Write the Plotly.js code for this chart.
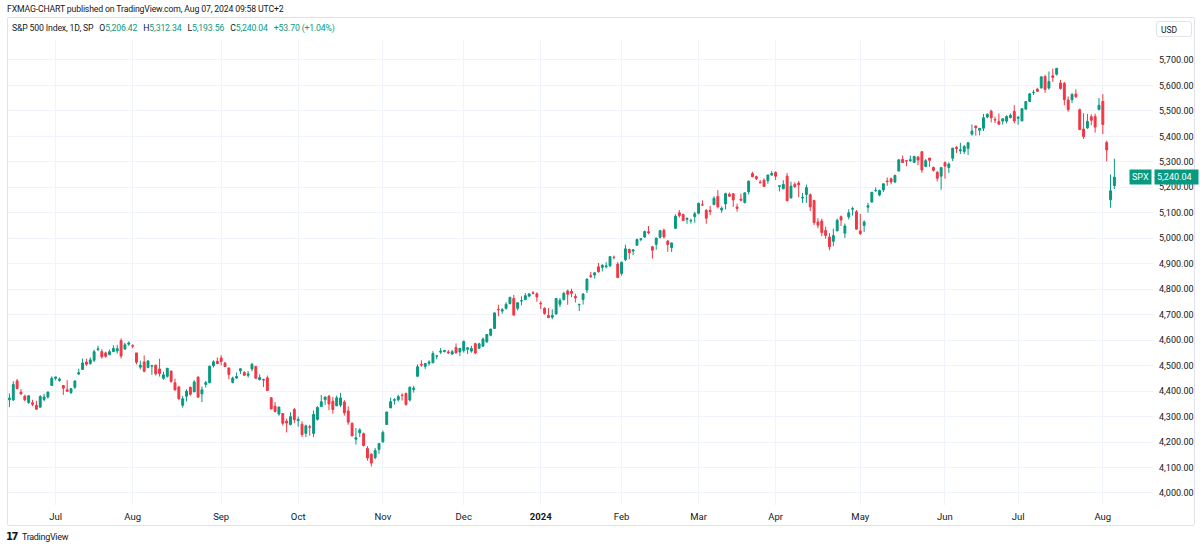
<!DOCTYPE html>
<html>
<head>
<meta charset="utf-8">
<script src="https://cdn.plot.ly/plotly-3.0.1.min.js"></script>
<style>
  html, body { margin:0; padding:0; background:#ffffff; }
  #wrap { position:relative; width:1200px; height:549px; overflow:hidden; font-family:Roboto, "Liberation Sans", sans-serif; color:#131722; }
  #frame { position:absolute; left:7px; top:17px; width:1188px; height:509px; border:1px solid #e0e3eb; border-radius:2px; box-sizing:border-box; }
  #chart { position:absolute; left:0; top:0; width:1200px; height:549px; }
  .txt { position:absolute; white-space:nowrap; }
  #hdr { left:7px; top:4px; font-size:8.7px; letter-spacing:-0.15px; color:#131722; }
  #leg { left:12px; top:23px; font-size:8.7px; letter-spacing:-0.15px; color:#131722; }
  #leg .v { color:#089981; }
  #usd { left:1156px; top:21px; width:36px; height:16px; border:1px solid #e0e3eb; border-radius:3px; font-size:8.5px; line-height:16px; text-align:left; padding-left:4px; box-sizing:border-box; background:#fff; }
  #logo { left:6px; top:531px; font-size:9px; letter-spacing:-0.3px; color:#131722; }
  #logo b { font-family:"DejaVu Sans", sans-serif; font-weight:900; font-size:10px; letter-spacing:-1.5px; margin-right:5px; }
</style>
</head>
<body>
<div id="wrap">
  <div id="frame"></div>
  <div id="chart"></div>
  <div class="txt" id="hdr">FXMAG-CHART published on TradingView.com, Aug 07, 2024 09:58 UTC+2</div>
  <div class="txt" id="leg">S&amp;P 500 Index, 1D, SP&nbsp;&nbsp;&nbsp;O<span class="v">5,206.42</span>&nbsp;&nbsp;&nbsp;H<span class="v">5,312.34</span>&nbsp;&nbsp;&nbsp;L<span class="v">5,193.56</span>&nbsp;&nbsp;&nbsp;C<span class="v">5,240.04</span>&nbsp;&nbsp;&nbsp;<span class="v">+53.70 (+1.04%)</span></div>
  <div class="txt" id="usd">USD</div>
  <div class="txt" id="logo"><b>17</b>TradingView</div>
</div>
<script>
// Trading days (daily candles), S&P 500 Index
const dates = [
 // Jun 2023
 '2023-06-14','2023-06-15','2023-06-16','2023-06-20','2023-06-21','2023-06-22','2023-06-23','2023-06-26','2023-06-27','2023-06-28','2023-06-29','2023-06-30',
 // Jul 2023
 '2023-07-03','2023-07-05','2023-07-06','2023-07-07','2023-07-10','2023-07-11','2023-07-12','2023-07-13','2023-07-14','2023-07-17','2023-07-18','2023-07-19','2023-07-20','2023-07-21','2023-07-24','2023-07-25','2023-07-26','2023-07-27','2023-07-28','2023-07-31',
 // Aug 2023
 '2023-08-01','2023-08-02','2023-08-03','2023-08-04','2023-08-07','2023-08-08','2023-08-09','2023-08-10','2023-08-11','2023-08-14','2023-08-15','2023-08-16','2023-08-17','2023-08-18','2023-08-21','2023-08-22','2023-08-23','2023-08-24','2023-08-25','2023-08-28','2023-08-29','2023-08-30','2023-08-31',
 // Sep 2023
 '2023-09-01','2023-09-05','2023-09-06','2023-09-07','2023-09-08','2023-09-11','2023-09-12','2023-09-13','2023-09-14','2023-09-15','2023-09-18','2023-09-19','2023-09-20','2023-09-21','2023-09-22','2023-09-25','2023-09-26','2023-09-27','2023-09-28','2023-09-29',
 // Oct 2023
 '2023-10-02','2023-10-03','2023-10-04','2023-10-05','2023-10-06','2023-10-09','2023-10-10','2023-10-11','2023-10-12','2023-10-13','2023-10-16','2023-10-17','2023-10-18','2023-10-19','2023-10-20','2023-10-23','2023-10-24','2023-10-25','2023-10-26','2023-10-27','2023-10-30','2023-10-31',
 // Nov 2023
 '2023-11-01','2023-11-02','2023-11-03','2023-11-06','2023-11-07','2023-11-08','2023-11-09','2023-11-10','2023-11-13','2023-11-14','2023-11-15','2023-11-16','2023-11-17','2023-11-20','2023-11-21','2023-11-22','2023-11-24','2023-11-27','2023-11-28','2023-11-29','2023-11-30',
 // Dec 2023
 '2023-12-01','2023-12-04','2023-12-05','2023-12-06','2023-12-07','2023-12-08','2023-12-11','2023-12-12','2023-12-13','2023-12-14','2023-12-15','2023-12-18','2023-12-19','2023-12-20','2023-12-21','2023-12-22','2023-12-26','2023-12-27','2023-12-28','2023-12-29',
 // Jan 2024
 '2024-01-02','2024-01-03','2024-01-04','2024-01-05','2024-01-08','2024-01-09','2024-01-10','2024-01-11','2024-01-12','2024-01-16','2024-01-17','2024-01-18','2024-01-19','2024-01-22','2024-01-23','2024-01-24','2024-01-25','2024-01-26','2024-01-29','2024-01-30','2024-01-31',
 // Feb 2024
 '2024-02-01','2024-02-02','2024-02-05','2024-02-06','2024-02-07','2024-02-08','2024-02-09','2024-02-12','2024-02-13','2024-02-14','2024-02-15','2024-02-16','2024-02-20','2024-02-21','2024-02-22','2024-02-23','2024-02-26','2024-02-27','2024-02-28','2024-02-29',
 // Mar 2024
 '2024-03-01','2024-03-04','2024-03-05','2024-03-06','2024-03-07','2024-03-08','2024-03-11','2024-03-12','2024-03-13','2024-03-14','2024-03-15','2024-03-18','2024-03-19','2024-03-20','2024-03-21','2024-03-22','2024-03-25','2024-03-26','2024-03-27','2024-03-28',
 // Apr 2024
 '2024-04-01','2024-04-02','2024-04-03','2024-04-04','2024-04-05','2024-04-08','2024-04-09','2024-04-10','2024-04-11','2024-04-12','2024-04-15','2024-04-16','2024-04-17','2024-04-18','2024-04-19','2024-04-22','2024-04-23','2024-04-24','2024-04-25','2024-04-26','2024-04-29','2024-04-30',
 // May 2024
 '2024-05-01','2024-05-02','2024-05-03','2024-05-06','2024-05-07','2024-05-08','2024-05-09','2024-05-10','2024-05-13','2024-05-14','2024-05-15','2024-05-16','2024-05-17','2024-05-20','2024-05-21','2024-05-22','2024-05-23','2024-05-24','2024-05-28','2024-05-29','2024-05-30','2024-05-31',
 // Jun 2024
 '2024-06-03','2024-06-04','2024-06-05','2024-06-06','2024-06-07','2024-06-10','2024-06-11','2024-06-12','2024-06-13','2024-06-14','2024-06-17','2024-06-18','2024-06-20','2024-06-21','2024-06-24','2024-06-25','2024-06-26','2024-06-27','2024-06-28',
 // Jul 2024
 '2024-07-01','2024-07-02','2024-07-03','2024-07-05','2024-07-08','2024-07-09','2024-07-10','2024-07-11','2024-07-12','2024-07-15','2024-07-16','2024-07-17','2024-07-18','2024-07-19','2024-07-22','2024-07-23','2024-07-24','2024-07-25','2024-07-26','2024-07-29','2024-07-30','2024-07-31',
 // Aug 2024
 '2024-08-01','2024-08-02','2024-08-05','2024-08-06'
];

const open = [
 4366,4365,4440,4396,4380,4355,4354,4344,4337,4367,4377,4422,
 4450,4442,4422,4405,4394,4415,4467,4485,4514,4508,4521,4563,4555,4550,4543,4555,4558,4598,4565,4584,
 4578,4550,4494,4514,4492,4498,4502,4487,4450,4458,4479,4433,4416,4344,4380,4415,4397,4455,4389,4426,4433,4500,4517,
 4530,4510,4491,4434,4451,4480,4473,4462,4487,4497,4445,4445,4452,4374,4341,4310,4312,4282,4269,4328,
 4284,4270,4234,4260,4234,4289,4339,4366,4380,4360,4342,4345,4357,4322,4274,4211,4236,4233,4175,4152,4139,4171,
 4201,4269,4334,4364,4366,4384,4391,4365,4406,4458,4505,4497,4509,4511,4538,4553,4555,4554,4546,4571,4554,
 4559,4564,4557,4586,4568,4576,4593,4619,4646,4721,4714,4725,4743,4764,4725,4754,4759,4773,4786,4782,
 4745,4725,4697,4690,4703,4741,4759,4793,4792,4772,4739,4760,4797,4853,4856,4888,4886,4888,4892,4925,4899,
 4862,4916,4957,4950,4973,4996,5005,5026,4967,4976,5004,5032,4989,4963,5039,5100,5093,5074,5068,5085,
 5098,5131,5110,5109,5132,5164,5111,5135,5173,5175,5123,5154,5140,5182,5254,5242,5220,5228,5226,5248,
 5258,5204,5194,5244,5158,5212,5217,5158,5172,5171,5149,5064,5068,5031,5005,4988,5029,5085,5020,5084,5114,5104,
 5029,5050,5122,5142,5187,5170,5190,5225,5234,5221,5264,5310,5304,5305,5298,5319,5340,5282,5315,5278,5259,5244,
 5297,5278,5314,5357,5343,5341,5353,5409,5441,5424,5432,5476,5499,5466,5459,5460,5460,5474,5498,
 5471,5461,5507,5537,5572,5585,5591,5635,5590,5638,5644,5610,5608,5543,5544,5566,5505,5429,5433,5477,5478,5505,
 5537,5376,5151,5206.42
];

const high = [
 4391,4439,4448,4408,4386,4382,4366,4362,4384,4390,4398,4458,
 4456,4454,4423,4443,4412,4443,4488,4528,4527,4532,4562,4578,4565,4555,4563,4580,4582,4607,4590,4595,
 4584,4550,4519,4540,4520,4503,4502,4527,4476,4490,4479,4449,4421,4381,4407,4418,4443,4458,4418,4440,4500,4521,4532,
 4541,4514,4491,4457,4473,4490,4478,4479,4511,4497,4466,4449,4461,4376,4357,4338,4313,4292,4317,4334,
 4300,4282,4268,4268,4324,4341,4385,4378,4385,4377,4383,4393,4364,4340,4276,4255,4254,4237,4184,4156,4177,4195,
 4245,4319,4374,4372,4386,4391,4394,4418,4421,4505,4521,4511,4521,4557,4542,4569,4560,4561,4562,4587,4569,
 4599,4572,4578,4590,4590,4610,4624,4644,4709,4739,4726,4749,4769,4778,4749,4772,4785,4785,4793,4788,
 4754,4729,4726,4721,4764,4765,4790,4799,4802,4782,4744,4785,4842,4868,4866,4903,4898,4906,4929,4932,4906,
 4906,4975,4957,4957,4999,5000,5030,5048,4970,5002,5033,5038,4993,4983,5094,5111,5097,5081,5077,5104,
 5140,5149,5114,5127,5165,5189,5125,5179,5180,5176,5136,5175,5179,5225,5261,5246,5229,5235,5249,5264,
 5263,5208,5228,5256,5222,5220,5225,5178,5211,5176,5150,5079,5077,5046,5020,5038,5077,5089,5058,5114,5124,5111,
 5096,5070,5139,5181,5200,5191,5214,5239,5238,5250,5311,5325,5305,5325,5324,5323,5341,5311,5316,5282,5264,5280,
 5302,5298,5354,5362,5375,5366,5376,5447,5441,5432,5488,5490,5505,5478,5490,5472,5483,5490,5523,
 5479,5509,5539,5570,5583,5591,5635,5642,5655,5666,5669,5622,5614,5557,5570,5585,5509,5491,5488,5487,5489,5551,
 5566,5383,5250,5312.34
];

const low = [
 4337,4362,4407,4386,4360,4350,4341,4328,4335,4360,4371,4422,
 4442,4437,4385,4398,4389,4408,4463,4485,4499,4504,4514,4557,4527,4531,4541,4553,4547,4528,4563,4578,
 4568,4505,4485,4474,4491,4464,4461,4457,4444,4453,4433,4403,4364,4335,4360,4382,4397,4375,4357,4414,4431,4493,4507,
 4501,4496,4446,4430,4448,4467,4461,4453,4478,4448,4442,4416,4402,4329,4316,4303,4265,4238,4265,4274,
 4260,4220,4220,4225,4219,4284,4339,4345,4325,4311,4342,4337,4304,4268,4223,4190,4219,4182,4127,4104,4132,4154,
 4197,4268,4334,4347,4359,4363,4343,4359,4394,4458,4495,4487,4500,4511,4525,4546,4552,4546,4541,4547,4538,
 4551,4546,4551,4546,4565,4575,4591,4615,4644,4694,4704,4720,4743,4697,4717,4737,4758,4768,4780,4751,
 4722,4700,4687,4682,4700,4730,4756,4739,4769,4748,4714,4740,4785,4844,4842,4865,4870,4882,4887,4917,4845,
 4853,4910,4918,4934,4970,4988,5001,5016,4920,4955,4999,4999,4947,4946,5039,5081,5068,5057,5058,5061,
 5094,5127,5057,5091,5131,5117,5100,5114,5163,5123,5104,5145,5137,5172,5240,5229,5216,5203,5214,5246,
 5229,5184,5194,5146,5157,5198,5161,5139,5139,5107,5052,5039,5008,4998,4953,4969,5028,5048,5001,5074,5089,5035,
 5013,5025,5101,5142,5182,5165,5182,5206,5212,5217,5263,5296,5283,5299,5297,5287,5257,5279,5280,5262,5223,5191,
 5234,5257,5303,5335,5331,5331,5327,5403,5403,5404,5421,5471,5455,5452,5447,5446,5451,5471,5451,
 5446,5459,5507,5535,5563,5574,5587,5571,5583,5614,5639,5584,5522,5497,5531,5551,5424,5390,5430,5444,5415,5505,
 5409,5302,5120,5193.56
];

const close = [
 4372.59,4425.84,4409.59,4388.71,4365.69,4381.89,4348.33,4328.82,4378.41,4376.86,4396.44,4450.38,
 4455.59,4446.82,4411.59,4398.95,4409.53,4439.26,4472.16,4510.04,4505.42,4522.79,4554.98,4565.72,4534.87,4536.34,4554.64,4567.46,4566.75,4537.41,4582.23,4588.96,
 4576.73,4513.39,4501.89,4478.03,4518.44,4499.38,4467.71,4468.83,4464.05,4489.72,4437.86,4404.33,4370.36,4369.71,4399.77,4387.55,4436.01,4376.31,4405.71,4433.31,4497.63,4514.87,4507.66,
 4515.77,4496.83,4465.48,4451.14,4457.49,4487.46,4461.90,4467.44,4505.10,4450.32,4453.53,4443.95,4402.20,4330.00,4320.06,4337.44,4273.53,4274.51,4299.70,4288.05,
 4288.39,4229.45,4263.75,4258.19,4308.50,4335.66,4358.24,4376.95,4349.61,4327.78,4373.63,4373.20,4314.60,4278.00,4224.16,4217.04,4247.68,4186.77,4137.23,4117.37,4166.82,4193.80,
 4237.86,4317.78,4358.34,4365.98,4378.38,4382.78,4347.35,4415.24,4411.55,4495.70,4502.88,4508.24,4514.02,4547.38,4538.19,4556.62,4559.34,4550.43,4554.89,4550.58,4567.80,
 4594.63,4569.78,4567.18,4549.34,4585.59,4604.37,4622.44,4643.70,4707.09,4719.55,4719.19,4740.56,4768.37,4698.35,4746.75,4754.63,4774.75,4781.58,4783.35,4769.83,
 4742.83,4704.81,4688.68,4697.24,4763.54,4756.50,4783.45,4780.24,4783.83,4765.98,4739.21,4780.94,4839.81,4850.43,4864.60,4868.55,4894.16,4890.97,4927.93,4924.97,4845.65,
 4906.19,4958.61,4942.81,4954.23,4995.06,4997.91,5026.61,5021.84,4953.17,5000.62,5029.73,5005.57,4975.51,4981.80,5087.03,5088.80,5069.53,5078.18,5069.76,5096.27,
 5137.08,5130.95,5078.65,5104.76,5157.36,5123.69,5117.94,5175.27,5165.31,5150.48,5117.09,5149.42,5178.51,5224.62,5241.53,5234.18,5218.19,5203.58,5248.49,5254.35,
 5243.77,5205.81,5211.49,5147.21,5204.34,5202.39,5209.91,5160.64,5199.06,5123.41,5061.82,5051.41,5022.21,5011.12,4967.23,5010.60,5070.55,5071.63,5048.42,5099.96,5116.17,5035.69,
 5018.39,5064.20,5127.79,5180.74,5187.70,5187.67,5214.08,5222.68,5221.42,5246.68,5308.15,5297.10,5303.27,5308.13,5321.41,5307.01,5267.84,5304.72,5306.04,5266.95,5235.48,5277.51,
 5283.40,5291.34,5354.03,5352.96,5346.99,5360.79,5375.32,5421.03,5433.74,5431.60,5473.23,5487.03,5473.17,5464.62,5447.87,5469.30,5477.90,5482.87,5460.48,
 5475.09,5509.01,5537.02,5567.19,5572.85,5576.98,5633.91,5584.54,5615.35,5631.22,5667.20,5588.27,5544.59,5505.00,5564.41,5555.74,5427.13,5399.22,5459.10,5463.54,5436.44,5522.30,
 5446.68,5346.56,5186.33,5240.04
];

// Time-axis labels (first trading day of each month)
const monthTickDates = ['2023-07-03','2023-08-01','2023-09-01','2023-10-02','2023-11-01','2023-12-01','2024-01-02','2024-02-01','2024-03-01','2024-04-01','2024-05-01','2024-06-03','2024-07-01','2024-08-01'];
const monthTickLabels = ['Jul','Aug','Sep','Oct','Nov','Dec','<b>2024</b>','Feb','Mar','Apr','May','Jun','Jul','Aug'];

const symbolLabel = 'SPX';

const UP = '#089981', DOWN = '#f23645';
const lastClose = close[close.length - 1];
const lastCloseText = lastClose.toLocaleString('en-US', {minimumFractionDigits: 2, maximumFractionDigits: 2});

const trace = {
  type: 'candlestick',
  x: dates, open: open, high: high, low: low, close: close,
  increasing: {line: {color: UP, width: 1}, fillcolor: UP},
  decreasing: {line: {color: DOWN, width: 1}, fillcolor: DOWN},
  whiskerwidth: 0,
  hoverinfo: 'skip'
};

const fontFam = 'Roboto, "Liberation Sans", sans-serif';

const layout = {
  width: 1200, height: 549,
  margin: {l: 8, r: 47, t: 40, b: 44},
  paper_bgcolor: 'rgba(0,0,0,0)',
  plot_bgcolor: 'rgba(0,0,0,0)',
  showlegend: false,
  boxgap: 0.3,
  font: {family: fontFam, color: '#131722', size: 10},
  xaxis: {
    type: 'category',
    range: [-0.37, 297.03],
    rangeslider: {visible: false},
    tickmode: 'array',
    tickvals: monthTickDates,
    ticktext: monthTickLabels,
    showgrid: true, gridcolor: '#f0f3fa', gridwidth: 1,
    ticks: '', zeroline: false, showline: false,
    tickfont: {family: fontFam, size: 9.5, color: '#131722'},
    ticklabelstandoff: 4,
    fixedrange: true
  },
  yaxis: {
    side: 'right',
    range: [3952.8, 5778.5],
    dtick: 100, tick0: 0,
    tickformat: ',.2f',
    showgrid: true, gridcolor: '#f0f3fa', gridwidth: 1,
    ticks: '', zeroline: false, showline: false,
    tickfont: {family: fontFam, size: 9, color: '#131722'},
    ticklabelstandoff: 5,
    fixedrange: true
  },
  annotations: [
    {xref: 'paper', yref: 'y', x: 1, y: lastClose, xanchor: 'right', yanchor: 'middle', xshift: -1,
     text: symbolLabel, showarrow: false, bgcolor: UP, borderpad: 2,
     font: {family: fontFam, size: 9, color: '#ffffff'}},
    {xref: 'paper', yref: 'y', x: 1, y: lastClose, xanchor: 'left', yanchor: 'middle', xshift: 1,
     text: lastCloseText + '&nbsp;&nbsp;', showarrow: false, bgcolor: UP, borderpad: 2,
     font: {family: fontFam, size: 9, color: '#ffffff'}}
  ]
};

Plotly.newPlot('chart', [trace], layout, {displayModeBar: false, staticPlot: true});
</script>
</body>
</html>
